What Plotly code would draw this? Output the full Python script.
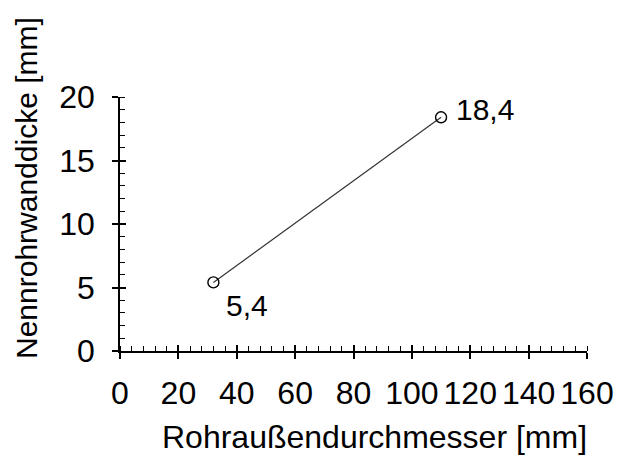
import plotly.graph_objects as go

diameter_mm = [32, 110]
wall_mm = [5.4, 18.4]
point_labels = ["5,4", "18,4"]

x_ticks = [0, 20, 40, 60, 80, 100, 120, 140, 160]
y_ticks = [0, 5, 10, 15, 20]

x_title = "Rohraußendurchmesser [mm]"
y_title = "Nennrohrwanddicke [mm]"

FONT = "Liberation Sans, Arial, sans-serif"
fs = 32

fig = go.Figure()
fig.add_trace(go.Scatter(
    x=diameter_mm, y=wall_mm, mode="lines+markers",
    line=dict(color="#333333", width=1.2),
    marker=dict(symbol="circle-open", size=11, color="black", line=dict(width=1.4)),
    showlegend=False, hoverinfo="skip"))

fig.add_annotation(x=diameter_mm[1], y=wall_mm[1], text=point_labels[1], showarrow=False,
                   xanchor="left", yanchor="middle", xshift=13, yshift=8,
                   font=dict(family=FONT, size=30, color="black"))
fig.add_annotation(x=diameter_mm[0], y=wall_mm[0], text=point_labels[0], showarrow=False,
                   xanchor="left", yanchor="top", xshift=11, yshift=-5,
                   font=dict(family=FONT, size=30, color="black"))

# axis titles placed as paper annotations
fig.add_annotation(xref="paper", yref="paper", x=0.544, y=-0.339, text=x_title,
                   showarrow=False, xanchor="center", yanchor="middle",
                   font=dict(family=FONT, size=32, color="black"))
fig.add_annotation(xref="paper", yref="paper", x=-0.199, y=0.642, text=y_title,
                   showarrow=False, xanchor="center", yanchor="middle", textangle=-90,
                   font=dict(family=FONT, size=30, color="black"))

axis_common = dict(showgrid=False, zeroline=False, showline=True, linecolor="black",
                   linewidth=1.5, tickcolor="black", tickwidth=1.5,
                   tickfont=dict(family=FONT, size=fs, color="black"))

fig.update_layout(
    width=625, height=463, plot_bgcolor="white", paper_bgcolor="white",
    margin=dict(l=120, r=38, t=97, b=112),
    xaxis=dict(range=[0, 160], tickvals=x_ticks, ticks="outside", ticklen=6,
               ticklabelstandoff=7,
               minor=dict(dtick=4, ticks="inside", ticklen=5, tickcolor="black", tickwidth=1.2),
               **axis_common),
    yaxis=dict(range=[0, 20], tickvals=y_ticks, ticks="outside", ticklen=6,
               ticklabelstandoff=11,
               minor=dict(dtick=1, ticks="inside", ticklen=5, tickcolor="black", tickwidth=1.2),
               **axis_common),
    xaxis2=dict(overlaying="x", matches="x", range=[0, 160], tickvals=x_ticks, ticks="inside",
                ticklen=6, showticklabels=False, showgrid=False, zeroline=False, showline=False,
                tickcolor="black", tickwidth=1.5, side="bottom"),
    yaxis2=dict(overlaying="y", matches="y", range=[0, 20], tickvals=y_ticks, ticks="inside",
                ticklen=6, showticklabels=False, showgrid=False, zeroline=False, showline=False,
                tickcolor="black", tickwidth=1.5, side="left"),
)
fig.add_trace(go.Scatter(x=[None], y=[None], xaxis="x2", yaxis="y2", showlegend=False, hoverinfo="skip"))

fig.write_html("out.html")
